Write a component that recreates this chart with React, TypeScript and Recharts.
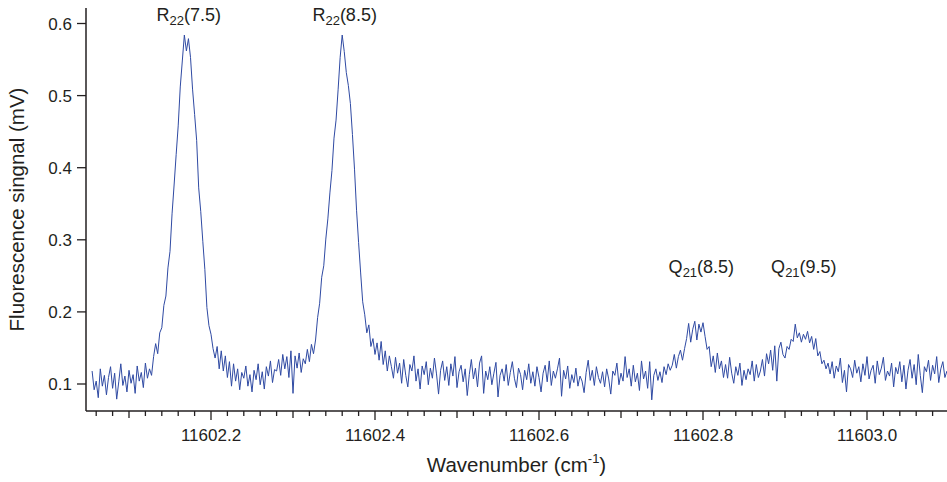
import { LineChart, Line, XAxis, YAxis, ReferenceDot } from "recharts";

// sampling grid of the scan (cm-1)
const wnStart = 11602.055;
const wnStep = 0.0025;

// fluorescence signal (mV)
const signal = [
  0.118, 0.092, 0.104, 0.081, 0.121, 0.097, 0.112, 0.085, 0.109, 0.124,
  0.094, 0.115, 0.079, 0.103, 0.128, 0.098, 0.111, 0.089, 0.119, 0.101,
  0.113, 0.087, 0.125, 0.104, 0.116, 0.095, 0.129, 0.108, 0.121, 0.112,
  0.138, 0.156, 0.142, 0.171, 0.178, 0.209, 0.222, 0.261, 0.284, 0.336,
  0.376, 0.418, 0.458, 0.512, 0.548, 0.584, 0.562, 0.579, 0.553, 0.509,
  0.474, 0.438, 0.372, 0.339, 0.298, 0.259, 0.206, 0.181, 0.169, 0.149,
  0.136, 0.152, 0.121, 0.146, 0.118, 0.139, 0.109, 0.131, 0.097, 0.128,
  0.104, 0.121, 0.092, 0.116, 0.108, 0.125, 0.097, 0.113, 0.089, 0.119,
  0.106, 0.128, 0.099, 0.117, 0.093, 0.124, 0.111, 0.132, 0.102, 0.12,
  0.118, 0.134, 0.112, 0.141, 0.121, 0.138, 0.109, 0.146, 0.087, 0.139,
  0.122, 0.143, 0.116, 0.135, 0.128, 0.148, 0.131, 0.155, 0.142, 0.161,
  0.192, 0.212, 0.248, 0.264, 0.301, 0.329, 0.365, 0.396, 0.441, 0.466,
  0.508, 0.553, 0.584, 0.561, 0.532, 0.514, 0.489, 0.446, 0.398, 0.341,
  0.296, 0.254, 0.214, 0.196, 0.171, 0.182, 0.152, 0.163, 0.141, 0.157,
  0.133, 0.159, 0.127, 0.146, 0.118, 0.139, 0.124, 0.108, 0.137, 0.115,
  0.129, 0.101, 0.134, 0.112, 0.096, 0.127, 0.118, 0.139, 0.104, 0.121,
  0.093, 0.125, 0.113, 0.131, 0.099, 0.122, 0.108, 0.136, 0.114, 0.086,
  0.119, 0.132, 0.105, 0.124, 0.098, 0.128, 0.111, 0.138, 0.095, 0.117,
  0.126, 0.103, 0.121, 0.084, 0.113, 0.134, 0.107, 0.122, 0.096, 0.129,
  0.139, 0.087, 0.118, 0.106, 0.124, 0.099, 0.115, 0.13, 0.082, 0.112,
  0.121, 0.104, 0.127, 0.098, 0.116, 0.131, 0.108, 0.095, 0.122, 0.113,
  0.092, 0.119, 0.106, 0.128, 0.101, 0.117, 0.097, 0.124, 0.109, 0.089,
  0.115, 0.126, 0.103, 0.132, 0.098, 0.118, 0.108, 0.121, 0.136, 0.083,
  0.119, 0.107, 0.125, 0.094, 0.113, 0.102, 0.122, 0.097, 0.111, 0.104,
  0.088, 0.116, 0.133, 0.105, 0.119, 0.098, 0.124, 0.109, 0.101, 0.117,
  0.096, 0.121, 0.107, 0.086, 0.118, 0.112, 0.129, 0.099, 0.115, 0.104,
  0.138, 0.109, 0.121, 0.097, 0.126, 0.103, 0.115, 0.091, 0.132, 0.107,
  0.118, 0.094, 0.131, 0.078, 0.112, 0.121, 0.105, 0.117, 0.102, 0.124,
  0.113, 0.128, 0.119, 0.126, 0.141, 0.122, 0.138, 0.147, 0.133, 0.149,
  0.163, 0.184, 0.158, 0.176, 0.187, 0.161, 0.183, 0.172, 0.185, 0.166,
  0.148, 0.152, 0.124, 0.139, 0.116, 0.143, 0.121, 0.132, 0.109, 0.127,
  0.108, 0.137, 0.115, 0.101, 0.124, 0.112, 0.129, 0.098, 0.119, 0.106,
  0.121, 0.113, 0.132, 0.104, 0.127, 0.109, 0.118, 0.134, 0.111, 0.142,
  0.128, 0.147, 0.119, 0.153, 0.104, 0.149, 0.158, 0.141, 0.136, 0.152,
  0.148, 0.162, 0.159, 0.183, 0.164, 0.171, 0.158, 0.169, 0.162, 0.173,
  0.157, 0.166, 0.148, 0.163, 0.139, 0.145, 0.128, 0.133, 0.121, 0.129,
  0.114, 0.131, 0.108, 0.125, 0.117, 0.136, 0.102, 0.119, 0.089, 0.127,
  0.121, 0.109, 0.133, 0.115, 0.124, 0.103, 0.128, 0.112, 0.138, 0.107,
  0.119, 0.126, 0.101, 0.132, 0.113, 0.122, 0.137, 0.105, 0.118, 0.111,
  0.129, 0.096, 0.123, 0.114, 0.131, 0.103, 0.126, 0.093, 0.119, 0.134,
  0.108, 0.127, 0.099, 0.141, 0.112, 0.088, 0.124, 0.117, 0.133, 0.105,
  0.126, 0.114, 0.138, 0.102, 0.121, 0.131, 0.109, 0.118,
];

const yTicks = [0.1, 0.2, 0.3, 0.4, 0.5, 0.6];

// line assignments, placed in data units
const peakLabels = [
  { branch: "R", sub: "22", j: "(7.5)", wn: 11602.173, mv: 0.604 },
  { branch: "R", sub: "22", j: "(8.5)", wn: 11602.363, mv: 0.604 },
  { branch: "Q", sub: "21", j: "(8.5)", wn: 11602.798, mv: 0.2535 },
  { branch: "Q", sub: "21", j: "(9.5)", wn: 11602.923, mv: 0.2535 },
];

const data = signal.map((mv, i) => ({ wn: wnStart + i * wnStep, mv }));

// minor ticks every 0.02 cm-1
const xTicks: number[] = [];
for (let k = 0; k <= 51; k++) {
  xTicks.push(Math.round((11602.06 + k * 0.02) * 100) / 100);
}

const FONT = "'Liberation Sans', Arial, Helvetica, sans-serif";
const INK = "#231f20";

const isMult = (v: number, m: number) =>
  Math.abs(v / m - Math.round(v / m)) < 1e-6;

const XTick = (props: any) => {
  const { x, y, payload } = props;
  const v = payload.value as number;
  const major = isMult(v, 0.2);
  const mid = !major && isMult(v, 0.1);
  const len = major ? 9 : mid ? 7 : 5;
  return (
    <g>
      <line x1={x} x2={x} y1={y} y2={y + len} stroke={INK} strokeWidth={1.3} />
      {major && (
        <text
          x={x}
          y={y + 30}
          textAnchor="middle"
          fontSize={17}
          fontFamily={FONT}
          fill={INK}
        >
          {v.toFixed(1)}
        </text>
      )}
    </g>
  );
};

const YTick = (props: any) => {
  const { x, y, payload } = props;
  return (
    <g>
      <line x1={x - 9} x2={x} y1={y} y2={y} stroke={INK} strokeWidth={1.3} />
      <text
        x={x - 14}
        y={y}
        dy="0.36em"
        textAnchor="end"
        fontSize={17}
        fontFamily={FONT}
        fill={INK}
      >
        {(payload.value as number).toFixed(1)}
      </text>
    </g>
  );
};

const XTitle = (props: any) => {
  const vb = props.viewBox;
  return (
    <text
      x={vb.x + vb.width / 2}
      y={vb.y + 61}
      textAnchor="middle"
      fontSize={20.5}
      fontFamily={FONT}
      fill={INK}
    >
      Wavenumber (cm
      <tspan fontSize={13} dy={-9}>
        -1
      </tspan>
      <tspan dy={9}>)</tspan>
    </text>
  );
};

const YTitle = (props: any) => {
  const vb = props.viewBox;
  const cx = 24;
  const cy = vb.y + vb.height / 2;
  return (
    <text
      x={cx}
      y={cy}
      transform={`rotate(-90, ${cx}, ${cy})`}
      textAnchor="middle"
      fontSize={20.5}
      fontFamily={FONT}
      fill={INK}
    >
      Fluorescence singnal (mV)
    </text>
  );
};

const PeakLabel = (lab: (typeof peakLabels)[number]) => (props: any) => (
  <text
    x={props.cx}
    y={props.cy}
    textAnchor="middle"
    fontSize={18}
    fontFamily={FONT}
    fill={INK}
  >
    {lab.branch}
    <tspan fontSize={13} dy={4}>
      {lab.sub}
    </tspan>
    <tspan dy={-4}>{lab.j}</tspan>
  </text>
);

export default function App() {
  return (
    <div style={{ position: "absolute", left: 0, top: 0 }}>
      <LineChart
        width={947}
        height={482}
        data={data}
        margin={{ top: 8, right: 0, bottom: 0, left: 0 }}
      >
        <XAxis
          dataKey="wn"
          type="number"
          domain={[11602.04756, 11603.09756]}
          allowDataOverflow
          ticks={xTicks}
          interval={0}
          tick={XTick}
          tickLine={false}
          tickSize={0}
          tickMargin={0}
          height={71}
          axisLine={{ stroke: INK, strokeWidth: 1.5 }}
          label={{ content: XTitle }}
        />
        <YAxis
          type="number"
          domain={[0.06255, 0.6215]}
          allowDataOverflow
          ticks={yTicks}
          interval={0}
          tick={YTick}
          tickLine={false}
          tickSize={0}
          tickMargin={0}
          width={86}
          axisLine={{ stroke: INK, strokeWidth: 1.5 }}
          label={{ content: YTitle }}
        />
        <Line
          dataKey="mv"
          type="linear"
          dot={false}
          stroke="#2f4aa3"
          strokeWidth={1}
          isAnimationActive={false}
        />
        {peakLabels.map((lab) => (
          <ReferenceDot
            key={lab.wn}
            x={lab.wn}
            y={lab.mv}
            r={0}
            ifOverflow="visible"
            shape={PeakLabel(lab)}
          />
        ))}
      </LineChart>
    </div>
  );
}
